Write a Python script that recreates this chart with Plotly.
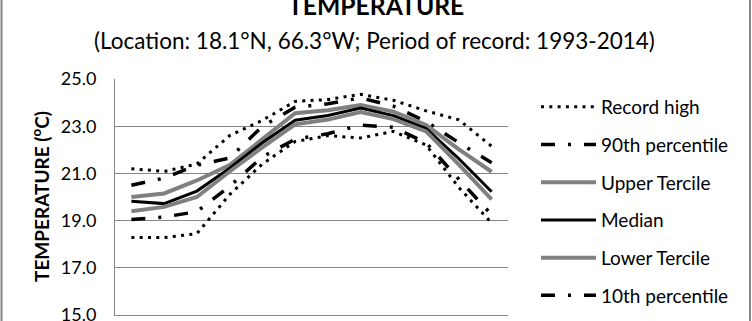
import plotly.graph_objects as go

months = ["Jan", "Feb", "Mar", "Apr", "May", "Jun", "Jul", "Aug", "Sep", "Oct", "Nov", "Dec"]
record_high = [21.2, 21.08, 21.4, 22.6, 23.25, 24.05, 24.13, 24.35, 24.1, 23.65, 23.27, 22.15]
p90 = [20.5, 20.8, 21.35, 21.65, 23.0, 23.8, 23.95, 24.2, 23.85, 23.2, 22.3, 21.45]
upper_tercile = [20.0, 20.15, 20.7, 21.35, 22.45, 23.55, 23.68, 23.9, 23.62, 23.05, 22.02, 21.07]
median = [19.82, 19.72, 20.25, 21.22, 22.3, 23.25, 23.45, 23.77, 23.45, 22.9, 21.62, 20.22]
lower_tercile = [19.4, 19.58, 20.0, 21.08, 22.1, 23.08, 23.28, 23.6, 23.3, 22.78, 21.37, 19.9]
p10 = [19.05, 19.15, 19.38, 20.45, 21.7, 22.45, 22.68, 23.05, 22.95, 22.3, 20.75, 19.25]
record_low = [18.28, 18.28, 18.45, 20.1, 21.4, 22.35, 22.6, 22.5, 22.78, 22.2, 20.4, 18.9]

FONT = "Lato"
GRAY = "#808080"
AX = "#868686"
DOT = "3px,5.3px"
DASHDOT = "14px,13px,3px,13px"

series = [
    ("Record high", record_high, "black", 3, DOT),
    ("90th percentile", p90, "black", 3.5, DASHDOT),
    ("Upper Tercile", upper_tercile, GRAY, 4, "solid"),
    ("Median", median, "black", 3, "solid"),
    ("Lower Tercile", lower_tercile, GRAY, 4, "solid"),
    ("10th percentile", p10, "black", 3.5, DASHDOT),
    ("Record low", record_low, "black", 3, DOT),
]

fig = go.Figure()
for i, (name, vals, color, width, dash) in enumerate(series):
    fig.add_trace(go.Scatter(
        x=months, y=vals, mode="lines", name=name,
        legendgroup=f"g{i}",
        line=dict(color=color, width=width, dash=dash),
    ))

FW, FH = 752, 321
# plot area in window pixels: x 115..508, y 79..315
PL, PR, PT, PB = 115, 508, 79, 315
L, R, T, B = PL, FW - PR, PT, FH - PB
PW, PH = PR - PL, PB - PT

def px(xw):
    return (xw - PL) / PW

def py(yw):
    return (PB - yw) / PH

fig.update_layout(
    width=FW, height=FH,
    margin=dict(l=L, r=R, t=T, b=B, pad=0, autoexpand=False),
    paper_bgcolor="white", plot_bgcolor="white",
    font=dict(family=FONT, color="black"),
    showlegend=True,
    legend=dict(
        x=px(536), y=py(88), xanchor="left", yanchor="top",
        font=dict(family=FONT, size=19, color="black"),
        itemwidth=55, tracegroupgap=10, traceorder="grouped",
        bgcolor="rgba(0,0,0,0)", borderwidth=0, maxheight=600,
    ),
    xaxis=dict(
        type="category", range=[-0.5, 11.5], showgrid=False,
        showline=True, linecolor=AX, linewidth=1, ticks="",
        zeroline=False, automargin=False, showticklabels=False,
    ),
    yaxis=dict(
        range=[15, 25], dtick=2, tick0=15, tickformat=".1f",
        showgrid=True, gridcolor=AX, gridwidth=1,
        showline=True, linecolor=AX, linewidth=1, ticks="",
        zeroline=False, automargin=False, ticklabelstandoff=14,
        ticklabeloverflow="allow",
        tickfont=dict(family=FONT, size=18, color="black"),
    ),
    annotations=[
        dict(text="<b>TEMPERATURE</b>", xref="paper", yref="paper",
             x=px(376), y=py(6), xanchor="center", yanchor="middle",
             showarrow=False, font=dict(family=FONT, size=24.7)),
        dict(text="(Location: 18.1°N, 66.3°W; Period of record: 1993-2014)",
             xref="paper", yref="paper", x=px(374.5), y=py(40),
             xanchor="center", yanchor="middle", showarrow=False,
             font=dict(family=FONT, size=22.5)),
        dict(text="<b>TEMPERATURE (<sup>o</sup>C)</b>", xref="paper", yref="paper",
             x=px(40), y=py(197), xanchor="center", yanchor="middle",
             textangle=-90, showarrow=False, font=dict(family=FONT, size=19)),
    ],
    shapes=[
        dict(type="rect", xref="paper", yref="paper",
             x0=px(1.5), x1=px(750), y0=py(400), y1=py(-40),
             line=dict(color=AX, width=2), fillcolor="rgba(0,0,0,0)", layer="above"),
    ],
)

fig.write_html(
    "out.html",
    config={"displayModeBar": False},
    post_script="document.documentElement.style.overflow='hidden';"
                "document.body.style.overflow='hidden';"
                "document.body.style.margin='0';",
)
